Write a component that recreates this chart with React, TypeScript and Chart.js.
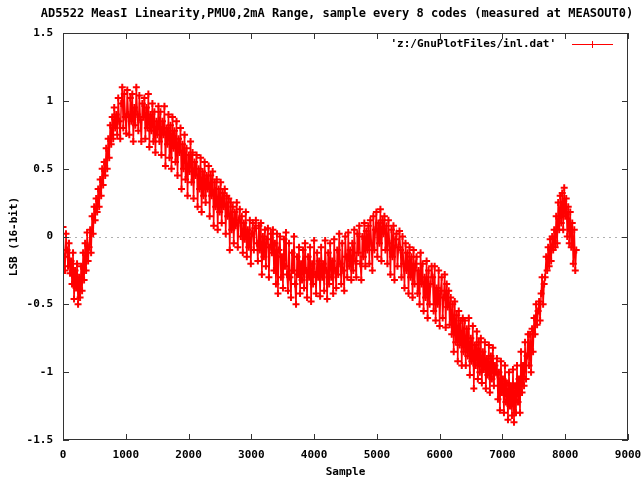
import React, { useEffect, useRef } from "react";
import { Chart, registerables } from "chart.js";

Chart.register(...registerables);

const TITLE = "AD5522 MeasI Linearity,PMU0,2mA Range, sample every 8 codes (measured at MEASOUT0)";
const X_LABEL = "Sample";
const Y_LABEL = "LSB (16-bit)";
const SERIES_LABEL = "'z:/GnuPlotFiles/inl.dat'";

const X_TICKS = [0, 1000, 2000, 3000, 4000, 5000, 6000, 7000, 8000, 9000];
const Y_TICKS = [-1.5, -1, -0.5, 0, 0.5, 1, 1.5];

// sample index of each reading (every 16th sample shown)
const SAMPLE_STEP = 16;

// INL readings in LSB (16 readings per 256 samples)
const INL = [
  0.07, -0.15, -0.25, 0.02, -0.1, -0.22, -0.05, -0.27, -0.18, -0.35, -0.12, -0.46, -0.25, -0.38, -0.2, -0.5,
  -0.3, -0.45, -0.22, -0.4, -0.12, -0.32, -0.05, -0.25, 0.03, -0.18, -0.08, 0.05, -0.12, 0.15, 0.02, 0.22,
  0.12, 0.28, 0.18, 0.35, 0.22, 0.42, 0.3, 0.5, 0.38, 0.55, 0.45, 0.65, 0.5, 0.72, 0.58, 0.82,
  0.68, 0.88, 0.72, 0.95, 0.8, 0.9, 0.75, 1.02, 0.85, 0.72, 0.98, 1.1, 0.8, 1.05, 0.88, 0.76,
  1.08, 0.9, 0.75, 1.02, 0.85, 1.05, 0.7, 0.95, 0.82, 1.1, 0.9, 0.78, 1.04, 0.86, 0.7, 0.98,
  0.88, 1.02, 0.72, 0.95, 0.8, 1.05, 0.66, 0.9, 0.78, 0.98, 0.7, 0.92, 0.62, 0.85, 0.75, 0.96,
  0.7, 0.92, 0.6, 0.85, 0.75, 0.96, 0.52, 0.8, 0.68, 0.9, 0.58, 0.82, 0.5, 0.88, 0.65, 0.78,
  0.55, 0.85, 0.45, 0.72, 0.62, 0.8, 0.35, 0.68, 0.5, 0.75, 0.42, 0.65, 0.3, 0.6, 0.48, 0.7,
  0.4, 0.62, 0.28, 0.55, 0.45, 0.6, 0.22, 0.5, 0.35, 0.58, 0.18, 0.48, 0.3, 0.55, 0.25, 0.45,
  0.35, 0.52, 0.15, 0.45, 0.3, 0.48, 0.08, 0.4, 0.22, 0.42, 0.05, 0.35, 0.18, 0.4, 0.1, 0.32,
  0.22, 0.35, 0.02, 0.3, 0.15, 0.28, -0.1, 0.25, 0.05, 0.22, -0.05, 0.18, 0.08, 0.25, -0.08, 0.12,
  0.2, 0.0, 0.15, -0.12, 0.1, -0.02, 0.18, -0.15, 0.05, -0.08, 0.12, -0.2, 0.02, 0.1, -0.1, 0.06,
  0.12, -0.05, -0.18, 0.08, -0.1, 0.1, -0.28, 0.0, -0.15, 0.05, -0.22, -0.02, 0.06, -0.3, -0.08, 0.02,
  -0.12, 0.05, -0.25, -0.05, -0.35, 0.02, -0.42, -0.1, 0.0, -0.3, -0.15, -0.38, -0.02, -0.22, 0.03, -0.28,
  -0.4, -0.05, -0.3, -0.45, -0.12, -0.25, 0.0, -0.35, -0.5, -0.15, -0.28, -0.08, -0.42, -0.2, -0.32, -0.1,
  -0.38, -0.05, -0.25, -0.45, -0.15, -0.3, -0.08, -0.48, -0.2, -0.35, -0.03, -0.28, -0.42, -0.12, -0.3, -0.18,
  -0.44, -0.08, -0.3, -0.2, -0.4, -0.03, -0.25, -0.46, -0.12, -0.35, -0.05, -0.3, -0.18, -0.42, -0.02, -0.25,
  -0.38, -0.1, -0.28, 0.02, -0.2, -0.35, -0.05, -0.25, -0.4, 0.0, -0.15, -0.3, 0.03, -0.22, -0.1, -0.32,
  -0.05, -0.25, 0.05, -0.18, -0.3, 0.02, -0.12, 0.08, -0.2, -0.32, 0.0, -0.15, 0.1, -0.22, 0.04, -0.1,
  0.08, -0.2, 0.12, -0.05, -0.25, 0.15, -0.1, 0.05, 0.18, -0.15, 0.1, -0.05, 0.2, -0.18, 0.12, 0.02,
  0.15, -0.1, 0.08, -0.2, 0.12, -0.05, -0.28, 0.05, -0.15, 0.08, -0.32, -0.02, 0.02, -0.22, -0.08, 0.04,
  -0.1, -0.3, 0.0, -0.2, -0.38, -0.05, -0.25, -0.12, -0.42, -0.08, -0.3, -0.15, -0.45, -0.1, -0.35, -0.2,
  -0.15, -0.42, -0.25, -0.5, -0.12, -0.35, -0.2, -0.55, -0.3, -0.45, -0.18, -0.6, -0.25, -0.5, -0.35, -0.22,
  -0.3, -0.55, -0.22, -0.62, -0.38, -0.5, -0.25, -0.66, -0.4, -0.3, -0.6, -0.45, -0.28, -0.67, -0.35, -0.52,
  -0.4, -0.65, -0.45, -0.72, -0.5, -0.85, -0.48, -0.78, -0.58, -0.92, -0.55, -0.8, -0.62, -0.95, -0.6, -0.85,
  -0.62, -0.95, -0.68, -0.88, -0.6, -1.02, -0.75, -0.92, -0.66, -1.12, -0.8, -0.95, -0.7, -1.05, -0.78, -1.0,
  -0.75, -1.08, -0.85, -0.98, -0.78, -1.12, -0.9, -1.02, -0.8, -1.15, -0.88, -1.05, -0.82, -1.1, -0.95, -1.0,
  -0.9, -1.2, -1.0, -1.28, -0.92, -1.15, -1.05, -1.3, -0.95, -1.22, -1.08, -1.35, -1.0, -1.25, -1.1, -1.32,
  -0.98, -1.37, -1.1, -1.3, -0.95, -1.22, -1.05, -1.3, -0.85, -1.15, -0.95, -1.1, -0.78, -1.05, -0.88, -0.72,
  -0.95, -0.72, -1.0, -0.68, -0.85, -0.6, -0.72, -0.5, -0.65, -0.55, -0.48, -0.62, -0.42, -0.3, -0.5, -0.35,
  -0.3, -0.15, -0.25, -0.08, -0.22, -0.02, -0.18, 0.0, -0.1, 0.05, -0.08, 0.15, -0.05, 0.25, 0.05, 0.3,
  0.1, 0.32, 0.05, 0.36, 0.15, 0.28, 0.0, 0.22, -0.05, 0.18, -0.08, 0.1, -0.2, 0.05, -0.25, -0.1,
];

const RED = "#ff0000";
const FONT = "'DejaVu Sans Mono', monospace";

const framePlugin = {
  id: "gnuplotFrame",
  beforeDatasetsDraw(chart: any) {
    const { ctx, chartArea: a, scales } = chart;
    const y0 = scales.y.getPixelForValue(0);
    ctx.save();
    ctx.strokeStyle = "#b0b0b0";
    ctx.lineWidth = 1;
    ctx.setLineDash([2, 4]);
    ctx.beginPath();
    ctx.moveTo(a.left, Math.round(y0) + 0.5);
    ctx.lineTo(a.right, Math.round(y0) + 0.5);
    ctx.stroke();
    ctx.restore();
  },
  afterDatasetsDraw(chart: any) {
    const { ctx, chartArea: a, scales } = chart;
    ctx.save();
    ctx.strokeStyle = "#333333";
    ctx.lineWidth = 1;
    ctx.strokeRect(a.left + 0.5, a.top + 0.5, a.right - a.left - 1, a.bottom - a.top - 1);
    const tl = 6;
    ctx.beginPath();
    X_TICKS.forEach((v) => {
      const x = Math.round(scales.x.getPixelForValue(v)) + 0.5;
      ctx.moveTo(x, a.bottom);
      ctx.lineTo(x, a.bottom - tl);
      ctx.moveTo(x, a.top);
      ctx.lineTo(x, a.top + tl);
    });
    Y_TICKS.forEach((v) => {
      const y = Math.round(scales.y.getPixelForValue(v)) + 0.5;
      ctx.moveTo(a.left, y);
      ctx.lineTo(a.left + tl, y);
      ctx.moveTo(a.right, y);
      ctx.lineTo(a.right - tl, y);
    });
    ctx.stroke();
    ctx.restore();
  },
  afterDraw(chart: any) {
    const { ctx, chartArea: a } = chart;
    ctx.save();
    ctx.fillStyle = "#000";
    ctx.textBaseline = "middle";
    ctx.textAlign = "center";
    ctx.font = `bold 12px ${FONT}`;
    ctx.fillText(TITLE, 337, 14);
    ctx.font = `bold 11px ${FONT}`;
    ctx.fillText(X_LABEL, (a.left + a.right) / 2, 472);
    ctx.save();
    ctx.translate(14, (a.top + a.bottom) / 2);
    ctx.rotate(-Math.PI / 2);
    ctx.fillText(Y_LABEL, 0, 0);
    ctx.restore();
    // legend
    const ly = 44;
    ctx.textAlign = "right";
    ctx.fillText(SERIES_LABEL, 556, ly);
    ctx.strokeStyle = RED;
    ctx.lineWidth = 1;
    ctx.beginPath();
    ctx.moveTo(572, ly + 0.5);
    ctx.lineTo(613, ly + 0.5);
    ctx.moveTo(592.5, ly - 3);
    ctx.lineTo(592.5, ly + 4);
    ctx.stroke();
    ctx.restore();
  },
};

export default function App() {
  const ref = useRef<HTMLCanvasElement | null>(null);
  useEffect(() => {
    if (!ref.current) return;
    const points = INL.map((v, i) => ({ x: i * SAMPLE_STEP, y: v }));
    const chart = new Chart(ref.current, {
      type: "scatter",
      data: {
        datasets: [
          {
            label: SERIES_LABEL,
            data: points,
            showLine: true,
            borderColor: RED,
            backgroundColor: RED,
            borderWidth: 1.5,
            pointStyle: "cross",
            pointRadius: 3.5,
            pointBorderWidth: 2,
            pointBorderColor: RED,
            pointHoverRadius: 3.5,
          },
        ],
      },
      options: {
        responsive: false,
        animation: false,
        devicePixelRatio: 1,
        layout: { padding: { left: 8, right: 16, top: 33, bottom: 0 } },
        plugins: { legend: { display: false }, title: { display: false }, tooltip: { enabled: false } },
        events: [],
        scales: {
          x: {
            type: "linear",
            min: 0,
            max: 9000,
            afterBuildTicks: (s: any) => {
              s.ticks = X_TICKS.map((v) => ({ value: v }));
            },
            afterFit: (s: any) => {
              s.height = 41;
              s.paddingLeft = 0;
              s.paddingRight = 0;
            },
            grid: { display: false, drawTicks: false },
            border: { display: false },
            ticks: {
              padding: 9,
              maxRotation: 0,
              autoSkip: false,
              color: "#000",
              font: { family: FONT, size: 11, weight: "bold" },
              callback: (v: any) => String(v),
            },
          },
          y: {
            type: "linear",
            min: -1.5,
            max: 1.5,
            afterBuildTicks: (s: any) => {
              s.ticks = Y_TICKS.map((v) => ({ value: v }));
            },
            afterFit: (s: any) => {
              s.width = 55;
              s.paddingTop = 0;
              s.paddingBottom = 0;
            },
            grid: { display: false, drawTicks: false },
            border: { display: false },
            ticks: {
              padding: 10,
              autoSkip: false,
              color: "#000",
              font: { family: FONT, size: 11, weight: "bold" },
              callback: (v: any) => String(v),
            },
          },
        },
      },
      plugins: [framePlugin],
    });
    return () => chart.destroy();
  }, []);
  return (
    <div style={{ position: "absolute", left: 0, top: 0, width: 644, height: 481, background: "#fff" }}>
      <canvas ref={ref} width={644} height={481} style={{ display: "block", width: 644, height: 481 }} />
    </div>
  );
}
